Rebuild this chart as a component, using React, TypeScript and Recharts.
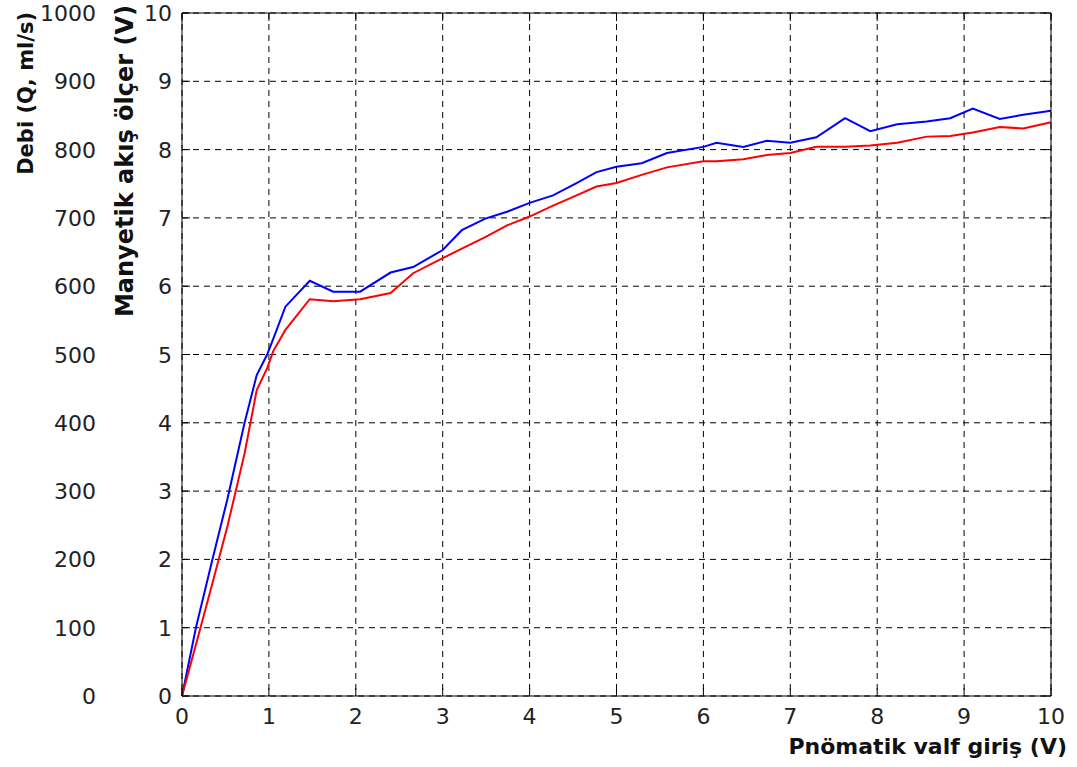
import { CartesianGrid, Line, LineChart, XAxis, YAxis } from "recharts";

const inputV = [
  0, 0.16, 0.35, 0.52, 0.72, 0.86, 0.98, 1.05, 1.19, 1.47, 1.74, 2.05, 2.4, 2.66, 3.0, 3.22, 3.49, 3.74, 4.0,
  4.27, 4.54, 4.77, 5.0, 5.29, 5.58, 6.0, 6.15, 6.46, 6.73, 7.0, 7.3, 7.63, 7.92, 8.23, 8.57, 8.84, 9.1, 9.41,
  9.68, 10,
];
const blueV = [
  0, 1.0, 2.0, 2.87, 4.0, 4.7, 5.0, 5.23, 5.7, 6.08, 5.92, 5.92, 6.2, 6.28, 6.53, 6.82, 6.99, 7.09, 7.22, 7.33,
  7.51, 7.67, 7.75, 7.8, 7.95, 8.04, 8.1, 8.04, 8.13, 8.1, 8.18, 8.46, 8.27, 8.37, 8.41, 8.46, 8.6, 8.45, 8.51,
  8.57,
];
const redV = [
  0, 0.75, 1.65, 2.47, 3.55, 4.48, 4.8, 5.05, 5.36, 5.81, 5.78, 5.81, 5.9, 6.19, 6.41, 6.55, 6.72, 6.89, 7.02,
  7.18, 7.33, 7.46, 7.51, 7.63, 7.74, 7.83, 7.83, 7.86, 7.92, 7.95, 8.04, 8.04, 8.06, 8.1, 8.19, 8.2, 8.25, 8.33,
  8.31, 8.4,
];
const voltTicks = [0, 1, 2, 3, 4, 5, 6, 7, 8, 9, 10];
const flowTicks = [0, 100, 200, 300, 400, 500, 600, 700, 800, 900, 1000];

const data = inputV.map((x, i) => ({ x, blue: blueV[i], red: redV[i] }));

const W = 1077;
const H = 767;
const TOP = 13;
const RIGHT_W = 26;
const PLOT_RIGHT = W - RIGHT_W;

const tickFont = { fontFamily: "DejaVu Sans", fontSize: 22, fill: "#222" };
const titleFont = { fontFamily: "DejaVu Sans", fontWeight: 700, fill: "#111" };

function LeftTick(props: any) {
  const { x, y, payload, index } = props;
  return (
    <g>
      <line x1={x + 10} y1={y} x2={x + 18} y2={y} stroke="#000" />
      <line x1={PLOT_RIGHT} y1={y} x2={PLOT_RIGHT - 8} y2={y} stroke="#000" />
      <text x={x} y={y} dy={8} textAnchor="end" {...tickFont}>
        {payload.value}
      </text>
      <text x={x - 76} y={y} dy={8} textAnchor="end" {...tickFont}>
        {flowTicks[index]}
      </text>
    </g>
  );
}

function BottomTick(props: any) {
  const { x, y, payload } = props;
  return (
    <g>
      <line x1={x} y1={y - 12} x2={x} y2={y - 20} stroke="#000" />
      <line x1={x} y1={TOP} x2={x} y2={TOP + 8} stroke="#000" />
      <text x={x} y={y} dy={16} textAnchor="middle" {...tickFont}>
        {payload.value}
      </text>
    </g>
  );
}

export default function App() {
  return (
    <div style={{ position: "absolute", left: 0, top: 0, width: W, height: H, background: "#fff" }}>
      <LineChart width={W} height={H} data={data} margin={{ top: 0, right: 0, bottom: 0, left: 100 }}>
        <CartesianGrid
          xAxisId="b"
          yAxisId="v"
          stroke="#000"
          strokeDasharray="6 5"
          horizontalValues={voltTicks}
          verticalValues={voltTicks}
        />
        <XAxis
          xAxisId="b"
          dataKey="x"
          type="number"
          domain={[0, 10]}
          ticks={voltTicks}
          height={71}
          tickSize={0}
          tickMargin={12}
          tick={<BottomTick />}
          stroke="#000"
          interval={0}
        />
        <XAxis
          xAxisId="t"
          orientation="top"
          dataKey="x"
          type="number"
          domain={[0, 10]}
          height={TOP}
          tick={false}
          tickLine={false}
          stroke="#000"
        />
        <YAxis
          yAxisId="v"
          type="number"
          domain={[0, 10]}
          ticks={voltTicks}
          width={82}
          tickSize={0}
          tickMargin={10}
          tick={<LeftTick />}
          stroke="#000"
          interval={0}
        />
        <YAxis
          yAxisId="r"
          orientation="right"
          type="number"
          domain={[0, 10]}
          width={RIGHT_W}
          tick={false}
          tickLine={false}
          stroke="#000"
        />
        <Line
          xAxisId="b"
          yAxisId="v"
          type="linear"
          dataKey="blue"
          stroke="#0000ff"
          strokeWidth={2}
          dot={false}
          isAnimationActive={false}
        />
        <Line
          xAxisId="b"
          yAxisId="v"
          type="linear"
          dataKey="red"
          stroke="#ff0000"
          strokeWidth={2}
          dot={false}
          isAnimationActive={false}
        />
      </LineChart>
      <svg width={W} height={H} style={{ position: "absolute", left: 0, top: 0, pointerEvents: "none" }}>
        <text x={1067} y={754} textAnchor="end" fontSize={22} {...titleFont}>
          Pnömatik valf giriş (V)
        </text>
        <text x={133} y={5} textAnchor="end" fontSize={24} transform="rotate(-90, 133, 5)" {...titleFont}>
          Manyetik akış ölçer (V)
        </text>
        <text x={33} y={12} textAnchor="end" fontSize={21} transform="rotate(-90, 33, 12)" {...titleFont}>
          Debi (Q, ml/s)
        </text>
      </svg>
    </div>
  );
}
